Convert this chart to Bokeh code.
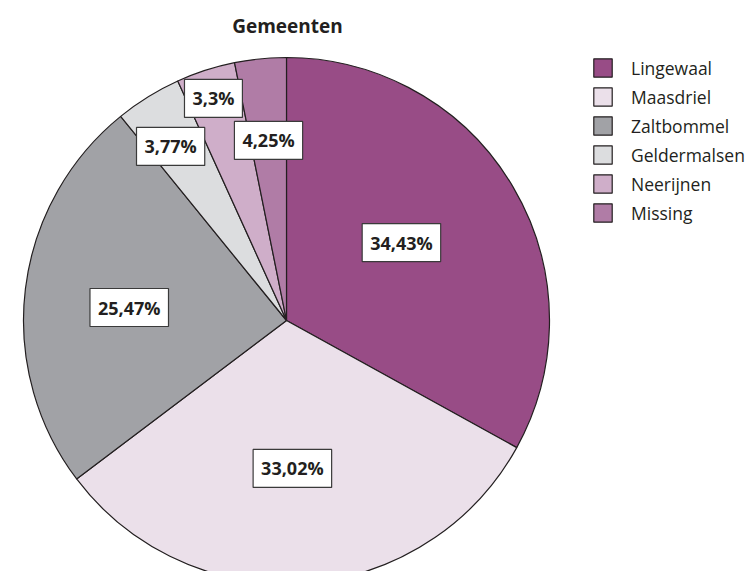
import numpy as np
from bokeh.plotting import figure
from bokeh.models import ColumnDataSource, Range1d, Legend, LegendItem, Label
from bokeh.embed import file_html
from bokeh.resources import INLINE
from bokeh.core.properties import value

# ---- data (slice sizes; label texts as printed) ----
categories = ["Lingewaal", "Maasdriel", "Zaltbommel", "Geldermalsen", "Neerijnen", "Missing"]
slice_values = [34.43, 33.02, 25.47, 4.25, 3.77, 3.3]
pct_labels = ["34,43%", "33,02%", "25,47%", "3,77%", "3,3%", "4,25%"]
title_text = "Gemeenten"

# ---- style / layout ----
colors = ["#984C86", "#EBE0EA", "#A1A2A6", "#DCDDDF", "#CFAEC9", "#B07CA6"]
label_radius_frac = [0.528, 0.563, 0.60, 0.795, 0.889, 0.688]
label_angle_offset_deg = [-3.6, 1.8, -2.2, -1.9, -0.3, 0.0]
IMG_H = 579
W, H = 746, 571
cx, cy, R = 286, IMG_H - 320, 263
FONT = "Open Sans"

vals = np.array(slice_values, dtype=float)
frac = vals / vals.sum()
c1 = np.cumsum(frac)
c0 = c1 - frac
start = np.pi / 2 - 2 * np.pi * c1
end = np.pi / 2 - 2 * np.pi * c0
mid = (start + end) / 2 - np.radians(label_angle_offset_deg)
lr = np.array(label_radius_frac) * R

src = ColumnDataSource(dict(
    cat=categories, start=start, end=end, color=colors,
    lx=cx + lr * np.cos(mid), ly=cy + lr * np.sin(mid), lab=pct_labels,
))

p = figure(width=W, height=H, output_backend="svg", toolbar_location=None,
           x_range=Range1d(0, W), y_range=Range1d(IMG_H - H, IMG_H),
           x_axis_type=None, y_axis_type=None, min_border=0)
p.grid.visible = False
p.outline_line_color = None
p.background_fill_color = "white"
p.border_fill_color = "white"

wr = p.wedge(x=cx, y=cy, radius=R, start_angle="start", end_angle="end",
             fill_color="color", line_color="#231F20", line_width=1.2, source=src)

p.text(x="lx", y="ly", text="lab", source=src, text_align="center", text_baseline="middle",
       text_font=value(FONT), text_font_style="bold", text_font_size="18px",
       text_color="#231F20", background_fill_color="white",
       border_line_color="#3a3a3a", border_line_width=1.2, padding=(8, 7))

p.add_layout(Label(x=287, y=IMG_H - 25, text=title_text, text_align="center",
                   text_baseline="middle", text_font=FONT, text_font_style="bold",
                   text_font_size="19px", text_color="#231F20"))

items = [LegendItem(label=c, renderers=[wr], index=i) for i, c in enumerate(categories)]
legend = Legend(items=items, location=(591, 346), orientation="vertical",
                glyph_width=23, glyph_height=23, label_height=25, spacing=4,
                label_standoff=17, padding=0, margin=0,
                border_line_color=None, background_fill_alpha=0,
                label_text_font=FONT, label_text_font_size="17.5px",
                label_text_color="#231F20")
p.add_layout(legend)

open("out.html", "w").write(file_html(p, INLINE))
